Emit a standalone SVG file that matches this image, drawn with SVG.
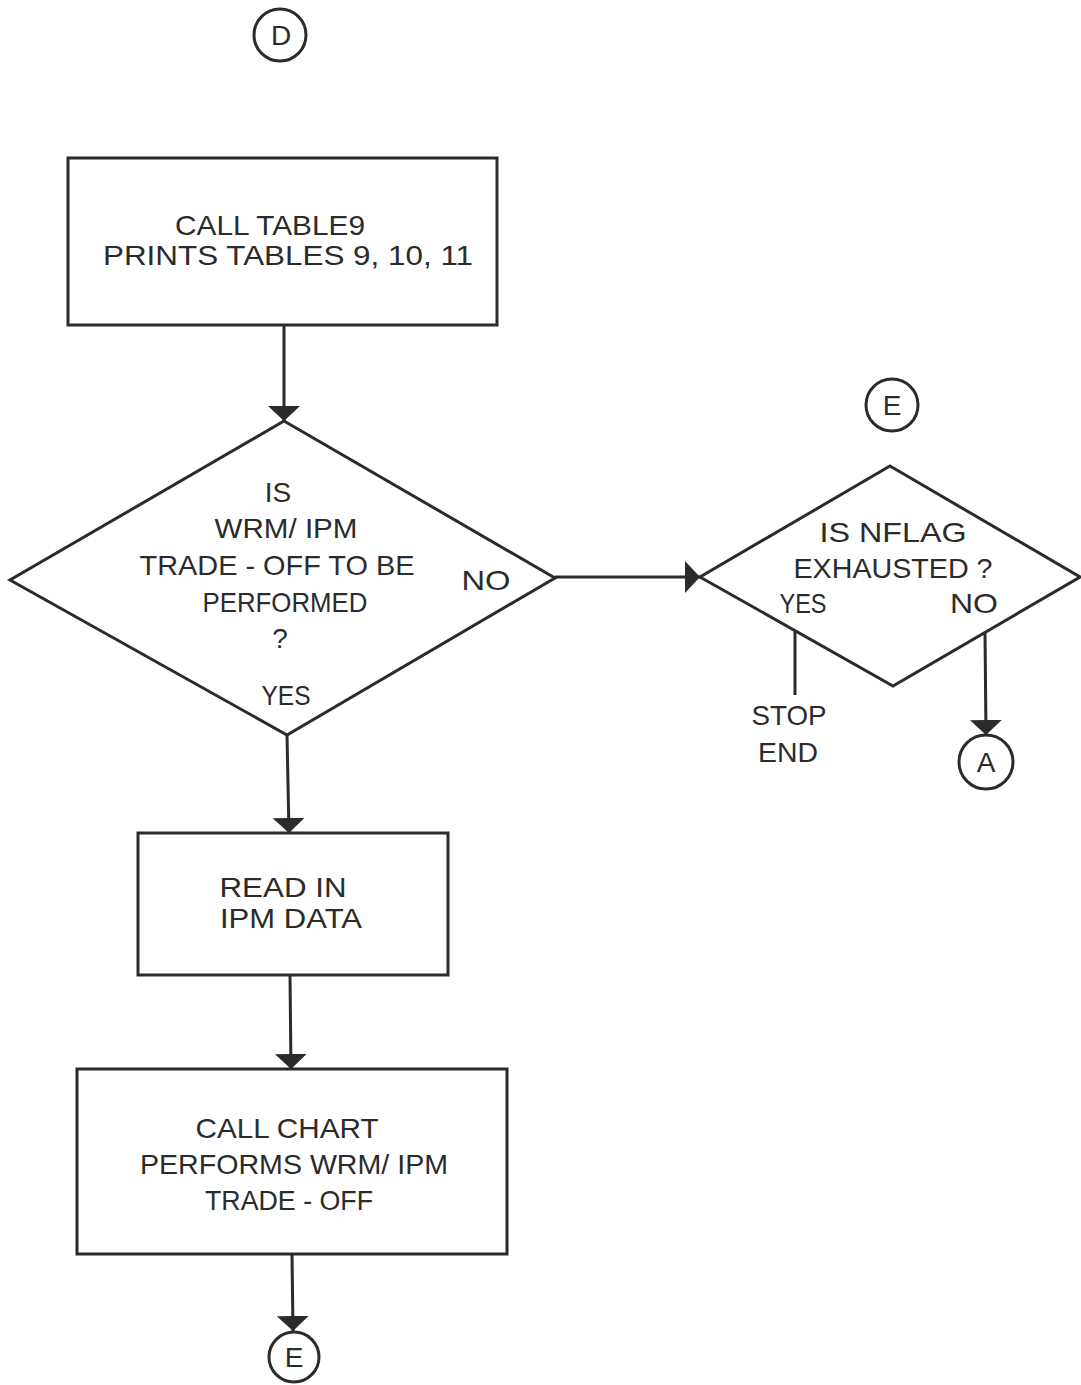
<svg xmlns="http://www.w3.org/2000/svg" width="1081" height="1385" viewBox="0 0 1081 1385">
  <defs>
    <marker id="arrow" markerUnits="userSpaceOnUse" markerWidth="16" markerHeight="32" refX="15" refY="16" orient="auto" viewBox="0 0 16 32">
      <path d="M0,0 L15,16 L0,32 Z" fill="#2b2b2b"/>
    </marker>
    <style>
      .shape { fill: none; stroke: #2b2b2b; stroke-width: 3; }
      .link { fill: none; stroke: #2b2b2b; stroke-width: 3; }
      text { font-family: "Liberation Sans", Arial, sans-serif; font-size: 28px; fill: #2b2b2b; text-anchor: middle; }
    </style>
  </defs>
  <rect x="0" y="0" width="1081" height="1385" fill="#ffffff"/>

  <!-- connectors -->
  <g id="connectors">
    <path class="link" d="M284,325 L284,421" marker-end="url(#arrow)"/>
    <path class="link" d="M287,735 L289,833" marker-end="url(#arrow)"/>
    <path class="link" d="M290,975 L291,1069" marker-end="url(#arrow)"/>
    <path class="link" d="M292,1254 L293,1331" marker-end="url(#arrow)"/>
    <path class="link" d="M555,577 L700,577" marker-end="url(#arrow)"/>
    <path class="link" d="M795,630 L795,695"/>
    <path class="link" d="M985,632 L986,735" marker-end="url(#arrow)"/>
  </g>

  <!-- off-page connector D -->
  <g id="connD">
    <circle class="shape" cx="280" cy="35" r="26"/>
    <text x="281" y="45">D</text>
  </g>

  <!-- CALL TABLE9 -->
  <g id="table9">
    <rect class="shape" x="68" y="158" width="429" height="167"/>
    <text x="270" y="235" textLength="190" lengthAdjust="spacingAndGlyphs">CALL TABLE9</text>
    <text x="288" y="265" textLength="370" lengthAdjust="spacingAndGlyphs">PRINTS TABLES 9, 10, 11</text>
  </g>

  <!-- trade-off decision -->
  <g id="decideTradeoff">
    <polygon class="shape" points="284,421 555,578 287,735 10,580"/>
    <text x="278" y="502">IS</text>
    <text x="286" y="538" textLength="143" lengthAdjust="spacingAndGlyphs">WRM/ IPM</text>
    <text x="277" y="575" textLength="275" lengthAdjust="spacingAndGlyphs">TRADE - OFF TO BE</text>
    <text x="285" y="612" textLength="165" lengthAdjust="spacingAndGlyphs">PERFORMED</text>
    <text x="280" y="648">?</text>
    <text x="286" y="705" textLength="49" lengthAdjust="spacingAndGlyphs">YES</text>
    <text x="486" y="590" textLength="49" lengthAdjust="spacingAndGlyphs">NO</text>
  </g>

  <!-- READ IN IPM DATA -->
  <g id="readIpm">
    <rect class="shape" x="138" y="833" width="310" height="142"/>
    <text x="283" y="897" textLength="127" lengthAdjust="spacingAndGlyphs">READ IN</text>
    <text x="291" y="928" textLength="142" lengthAdjust="spacingAndGlyphs">IPM DATA</text>
  </g>

  <!-- CALL CHART -->
  <g id="callChart">
    <rect class="shape" x="77" y="1069" width="430" height="185"/>
    <text x="287" y="1138" textLength="183" lengthAdjust="spacingAndGlyphs">CALL CHART</text>
    <text x="294" y="1174" textLength="308" lengthAdjust="spacingAndGlyphs">PERFORMS WRM/ IPM</text>
    <text x="289" y="1210" textLength="168" lengthAdjust="spacingAndGlyphs">TRADE - OFF</text>
  </g>

  <!-- off-page connector E (bottom) -->
  <g id="connEout">
    <circle class="shape" cx="294" cy="1357" r="25"/>
    <text x="294" y="1367">E</text>
  </g>

  <!-- off-page connector E (entry) -->
  <g id="connEin">
    <circle class="shape" cx="892" cy="405" r="26"/>
    <text x="892" y="415">E</text>
  </g>

  <!-- NFLAG decision -->
  <g id="decideNflag">
    <polygon class="shape" points="890,466 1080,577 893,686 700,577"/>
    <text x="893" y="542" textLength="147" lengthAdjust="spacingAndGlyphs">IS NFLAG</text>
    <text x="893" y="578" textLength="199" lengthAdjust="spacingAndGlyphs">EXHAUSTED ?</text>
    <text x="803" y="613" textLength="47" lengthAdjust="spacingAndGlyphs">YES</text>
    <text x="974" y="613" textLength="48" lengthAdjust="spacingAndGlyphs">NO</text>
  </g>

  <!-- terminal STOP END -->
  <g id="stopEnd">
    <text x="789" y="725" textLength="75" lengthAdjust="spacingAndGlyphs">STOP</text>
    <text x="788" y="762" textLength="60" lengthAdjust="spacingAndGlyphs">END</text>
  </g>

  <!-- off-page connector A -->
  <g id="connA">
    <circle class="shape" cx="986" cy="762" r="27"/>
    <text x="986" y="772">A</text>
  </g>
</svg>
